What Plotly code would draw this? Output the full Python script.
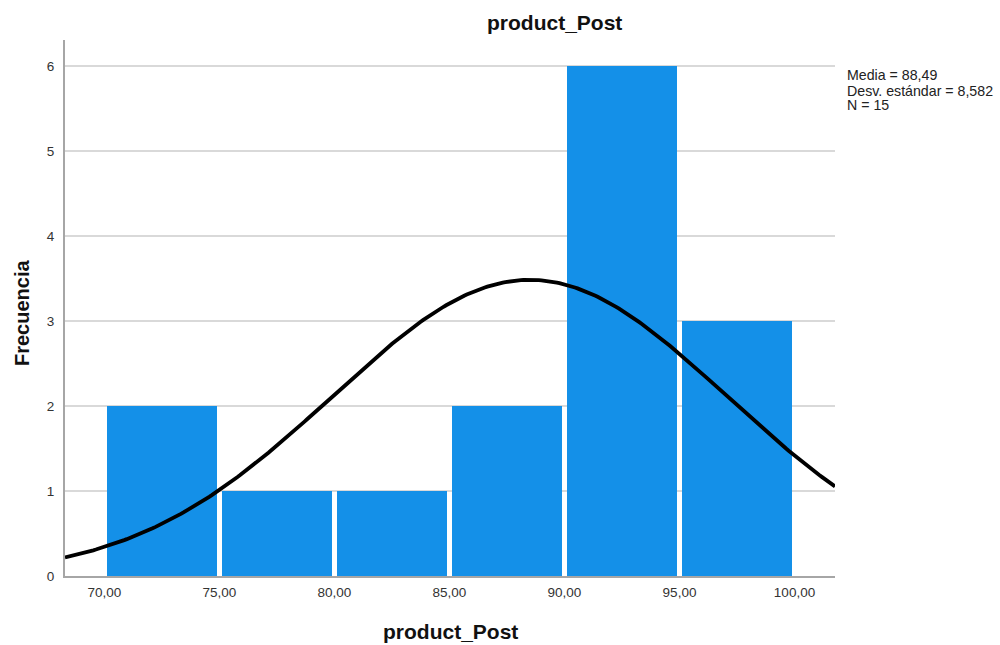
import numpy as np
import plotly.graph_objects as go

# Histogram bins (lower edges) and frequencies
bin_starts = [70, 75, 80, 85, 90, 95]
bin_width = 5
frequencies = [2, 1, 1, 2, 6, 3]

# Summary statistics
mean_val = 88.49
std_val = 8.582
n_obs = 15

tick_vals = [70, 75, 80, 85, 90, 95, 100]
tick_text = ["70,00", "75,00", "80,00", "85,00", "90,00", "95,00", "100,00"]

x_range = [68.283, 101.761]
y_range = [0, 6.31]

FONT = "Liberation Sans, Arial, sans-serif"
BAR_COLOR = "rgb(20,144,232)"

# Plot area geometry in pixels (used to place the text annotations)
PL, PR, PT, PB = 65, 835, 40, 576
PW, PH = PR - PL, PB - PT


def px(x):
    return (x - PL) / PW


def py(y):
    return (PB - y) / PH


# Normal curve scaled to the histogram counts
xs = np.linspace(x_range[0], x_range[1], 300)
ys = n_obs * bin_width / (std_val * np.sqrt(2 * np.pi)) * np.exp(-0.5 * ((xs - mean_val) / std_val) ** 2)

fig = go.Figure()
fig.add_trace(go.Bar(
    x=[s + bin_width / 2 for s in bin_starts],
    y=frequencies,
    width=[bin_width - 0.22] * len(bin_starts),
    marker=dict(color=BAR_COLOR, line=dict(width=0)),
    hoverinfo="x+y",
))
fig.add_trace(go.Scatter(
    x=xs, y=ys, mode="lines",
    line=dict(color="black", width=3.8),
    hoverinfo="skip",
))

fig.update_layout(
    width=1000, height=645,
    margin=dict(l=PL, r=1000 - PR, t=PT, b=645 - PB),
    paper_bgcolor="white", plot_bgcolor="white",
    showlegend=False,
    font=dict(family=FONT, color="#222222"),
    xaxis=dict(
        range=x_range, tickvals=tick_vals, ticktext=tick_text,
        showgrid=False, zeroline=False,
        showline=True, linecolor="#A6A6A6", linewidth=2,
        ticks="", tickfont=dict(size=13.5, family=FONT, color="#333333"),
        ticklabelstandoff=3,
    ),
    yaxis=dict(
        range=y_range, tickvals=[0, 1, 2, 3, 4, 5, 6],
        showgrid=True, gridcolor="#D9D9D9", gridwidth=2,
        zeroline=False,
        showline=True, linecolor="#A6A6A6", linewidth=2,
        ticks="", tickfont=dict(size=13.5, family=FONT, color="#333333"),
        ticklabelstandoff=6,
    ),
    bargap=0,
)

# Chart title
fig.add_annotation(
    text="<b>product_Post</b>", xref="paper", yref="paper",
    x=px(554), y=py(22), xanchor="center", yanchor="middle",
    showarrow=False, font=dict(size=21, family=FONT, color="#111111"),
)
# X axis title
fig.add_annotation(
    text="<b>product_Post</b>", xref="paper", yref="paper",
    x=px(451), y=py(631), xanchor="center", yanchor="middle",
    showarrow=False, font=dict(size=21, family=FONT, color="#111111"),
)
# Y axis title
fig.add_annotation(
    text="<b>Frecuencia</b>", xref="paper", yref="paper",
    x=px(22), y=py(313), xanchor="center", yanchor="middle",
    textangle=-90, showarrow=False, font=dict(size=20, family=FONT, color="#111111"),
)

# Statistics lines
stat_lines = [
    "Media = " + f"{mean_val:.2f}".replace(".", ","),
    "Desv. estándar = " + f"{std_val:.3f}".replace(".", ","),
    f"N = {n_obs}",
]
for i, line in enumerate(stat_lines):
    fig.add_annotation(
        text=line, xref="paper", yref="paper",
        x=px(845), y=py(75.5 + 15 * i), xanchor="left", yanchor="middle",
        align="left", showarrow=False,
        font=dict(size=14.2, family=FONT, color="#222222"),
    )

fig.write_html("out.html")
